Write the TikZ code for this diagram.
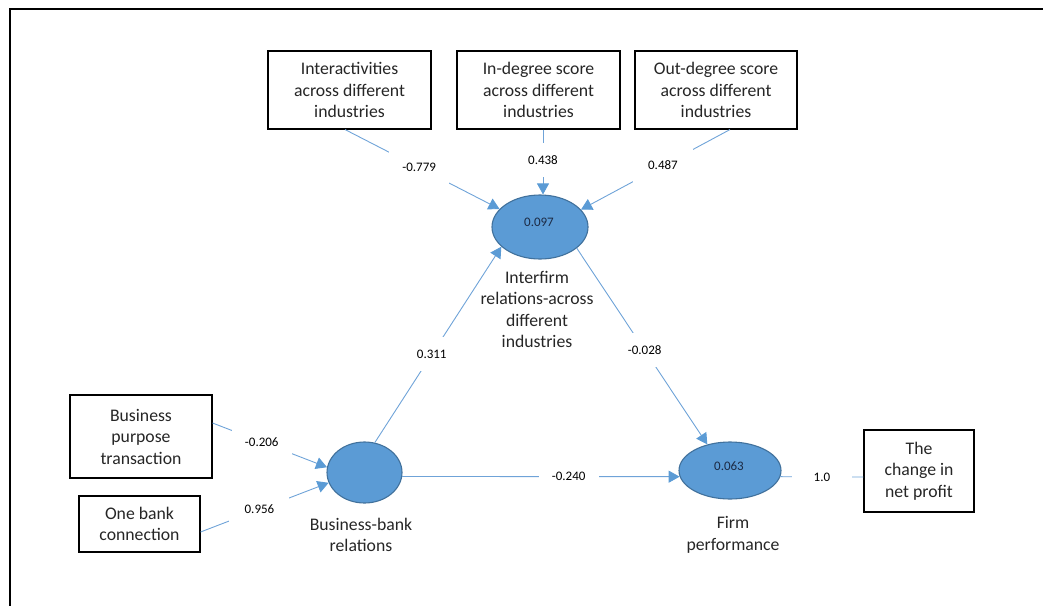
\documentclass[tikz,border=0pt]{standalone}
\usepackage{fontspec}
\setmainfont{Carlito}
\usetikzlibrary{shapes.geometric,arrows.meta}

\definecolor{latfill}{HTML}{5B9BD5}
\definecolor{latedge}{HTML}{41719C}
\definecolor{pathcol}{HTML}{6FA3D8}
\definecolor{tipcol}{HTML}{5B9BD5}
\definecolor{txt}{HTML}{262626}
\definecolor{valtxt}{HTML}{1C2A44}

\begin{document}
\begin{tikzpicture}[x=1pt,y=-1pt,
  indicator/.style={draw=black, line width=1.1pt, fill=white, align=center,
    inner sep=0pt, text=txt, font=\fontsize{17.7}{21.5}\selectfont},
  latent/.style={ellipse, draw=latedge, fill=latfill, line width=1.1pt, inner sep=0pt},
  latval/.style={text=valtxt, inner sep=0pt, font=\fontsize{13}{15}\selectfont},
  latname/.style={align=center, inner sep=0pt, text=txt, font=\fontsize{17.7}{21.5}\selectfont},
  link/.style={draw=pathcol, line width=0.9pt},
  effect/.style={link, -{Triangle[length=11pt,width=12pt,color=tipcol]}},
  coef/.style={fill=white, minimum width=60pt, minimum height=34pt, inner sep=0pt,
    text=black, font=\fontsize{13}{15}\selectfont}
]
\useasboundingbox (0,0) rectangle (1043,605);
\clip (0,0) rectangle (1043,605);

% outer frame
\draw[line width=2pt] (10,620) -- (10,9) -- (1060,9);

% indicator boxes
\node[indicator, minimum width=163pt, minimum height=78pt] (b1) at (349.5,90)
  {Interactivities\\across different\\industries};
\node[indicator, minimum width=163pt, minimum height=78pt] (b2) at (538.5,90)
  {In-degree score\\across different\\industries};
\node[indicator, minimum width=162pt, minimum height=78pt] (b3) at (716,90)
  {Out-degree score\\across different\\industries};
\node[indicator, minimum width=142pt, minimum height=83pt] (bp) at (141,436.5)
  {Business\\purpose\\transaction};
\node[indicator, minimum width=121pt, minimum height=56pt] (ob) at (139.5,524)
  {One bank\\connection};
\node[indicator, minimum width=110pt, minimum height=82pt] (nc) at (919,471)
  {The\\change in\\net profit};

% latent variables
\node[latent, minimum width=96pt, minimum height=64pt] (e1) at (540,227) {};
\node[latent, minimum width=75pt, minimum height=61pt] (bb) at (364.5,472.5) {};
\node[latent, minimum width=102pt, minimum height=57pt] (fp) at (730,470.5) {};

\node[latval] (v1) at (539,222) {0.097};
\node[latval] (v2) at (729,466) {0.063};

\node[latname] (n1) at (537,309.5) {Interfirm\\relations-across\\different\\industries};
\node[latname] (n2) at (361,535) {Business-bank\\relations};
\node[latname] (n3) at (733,535) {Firm\\performance};

% paths with coefficients
\coordinate (b2out) at ([xshift=4.5pt]b2.south);
\draw[effect] ([xshift=-4.5pt]b1.south) -- node[coef,pos=0.48] (c1) {-0.779} (e1.156);
\draw[effect] (b2out) -- node[coef,pos=0.47] (c2) {0.438} (b2out |- e1.north);
\draw[effect] ([xshift=14pt]b3.south) -- node[coef,pos=0.45] (c3) {0.487} (e1.23);
\draw[effect] (bb.71) -- node[coef,pos=0.45] (c4) {0.311} (e1.207);
\draw[effect] (e1.330) -- node[coef,pos=0.52] (c5) {-0.028} (fp.131);
\draw[effect] (bb.-6) -- node[coef,pos=0.6] (c6) {-0.240} (fp.187);
\draw[effect] ([yshift=13.5pt]bp.east) -- node[coef,pos=0.43] (c7) {-0.206} (bb.172);
\draw[effect] ([yshift=-8pt]ob.east) -- node[coef,pos=0.46] (c8) {0.956} (bb.196);
\draw[link] (fp.-7) -- node[coef,pos=0.5] (c9) {1.0} ([yshift=-6pt]nc.west);
\end{tikzpicture}
\end{document}
